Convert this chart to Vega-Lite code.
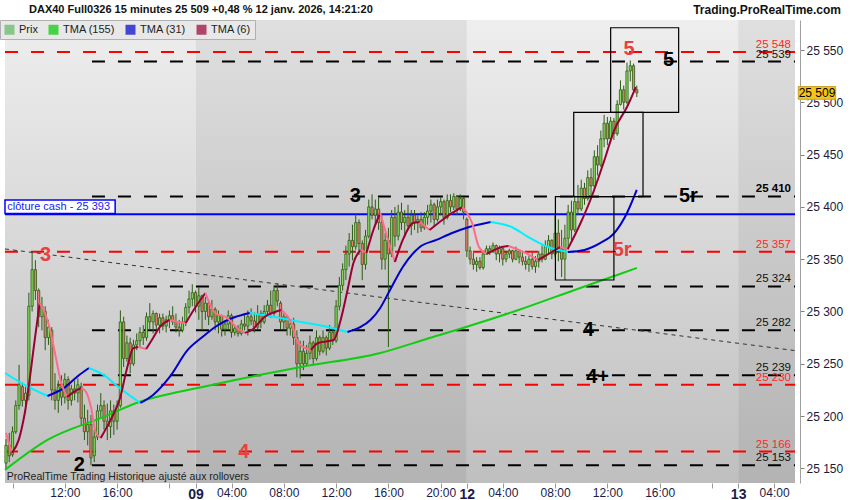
{
"$schema":"https://vega.github.io/schema/vega-lite/v6.json",
"width":800,"height":463,
"autosize":{"type":"none"},
"padding":{"left":0,"top":20,"right":50,"bottom":17},
"background":"#ffffff",
"config":{"font":"Liberation Sans","view":{"stroke":null},
 "axisX":{"grid":false,"domain":false,"tickSize":5,"tickColor":"#9a9a9a","labelPadding":-1,"labelColor":"#1a1a4a","labelFontSize":12,"labelOverlap":false,"labelBound":false,"labelFlush":false,"title":null},
 "axisY":{"grid":false,"domainColor":"#a0a0a0","tickColor":"#808080","tickSize":4,"labelPadding":2,"labelFontSize":12,"labelColor":"#1a1a3a","title":null},
 "legend":{"orient":"top-left","offset":0,"direction":"horizontal","padding":4,"fillColor":"#e8e8e8","strokeColor":"#b0b0b0","symbolType":"square","symbolSize":100,"symbolStrokeWidth":0,"labelFontSize":11,"labelColor":"#222222","columnPadding":10,"labelOffset":4}},
"resolve":{"scale":{"color":"independent"}},
"datasets":{
"days":[{"d":"8","a":-58.3,"b":0,"s":"L","ya":25136,"yb":25578.7},{"d":"9","a":0,"b":83,"s":"D","ya":25136,"yb":25578.7},{"d":"12","a":83,"b":166,"s":"L","ya":25136,"yb":25578.7},{"d":"13","a":166,"b":183.4,"s":"D","ya":25136,"yb":25578.7}],
"lv":[{"p":25548,"a":-58.3,"b":183.4,"k":"r","t":"25 548"},{"p":25539,"a":-31.7,"b":183.4,"k":"b","t":"25 539"},{"p":25410,"a":-31.7,"b":183.4,"k":"b","t":"25 410"},{"p":25357,"a":-58.3,"b":183.4,"k":"r","t":"25 357"},{"p":25324,"a":-31.7,"b":183.4,"k":"b","t":"25 324"},{"p":25282,"a":-31.7,"b":183.4,"k":"b","t":"25 282"},{"p":25239,"a":-31.7,"b":183.4,"k":"b","t":"25 239"},{"p":25230,"a":-58.3,"b":183.4,"k":"r","t":"25 230"},{"p":25166,"a":-58.3,"b":183.4,"k":"r","t":"25 166"},{"p":25153,"a":-31.7,"b":183.4,"k":"b","t":"25 153"}],
"tr":[{"a":-58.3,"pa":25359.8,"b":183.4,"pb":25262.6}],
"cash":[{"a":-58.3,"b":183.4,"p":25393}],
"cbox":[{"a":-58.3,"b":-24.6,"p1":25393.6,"p2":25406.6}],
"ctext":[{"u":-57.6,"p":25400,"t":"clôture cash -  25 393"}],
"note":[{"u":-57.8,"p":25142.2,"t":"ProRealTime Trading  Historique ajusté aux rollovers"}],
"hdr":[{"u":183.4,"p":25578.7,"t":"Trading.ProRealTime.com"}],
"hdl":[{"u":-58.3,"p":25578.7,"t":"DAX40 Full0326 15 minutes 25 509 +0,48 % 12 janv. 2026, 14:21:20"}],
"tag":[{"u":183.4,"p":25509,"t":"25 509"}],
"bx":[{"a":110.1,"b":128.0,"p1":25409.8,"p2":25330.1},{"a":115.7,"b":136.9,"p1":25490.4,"p2":25409.8},{"a":127.0,"b":147.8,"p1":25571.3,"p2":25490.4}],
"ann":[{"u":-45.9,"p":25354,"t":"3","k":"r"},{"u":48.9,"p":25410.4,"t":"3","k":"b"},{"u":-35.6,"p":25153.3,"t":"2","k":"b"},{"u":14.8,"p":25165.7,"t":"4","k":"r"},{"u":120.2,"p":25282,"t":"4","k":"b"},{"u":123.0,"p":25237,"t":"4+","k":"b"},{"u":130.5,"p":25358.8,"t":"5r","k":"r"},{"u":150.8,"p":25410,"t":"5r","k":"b"},{"u":132.6,"p":25550.5,"t":"5","k":"r"},{"u":144.7,"p":25540.4,"t":"5","k":"b"}],
"lg":[{"n":"Prix"},{"n":"TMA (155)"},{"n":"TMA (31)"},{"n":"TMA (6)"}],
"cd":[
{"u":-58,"o":25155,"h":25178,"l":25150,"c":25172},{"u":-57,"o":25172,"h":25184,"l":25156,"c":25162},{"u":-56,"o":25163,"h":25190,"l":25161,"c":25185},{"u":-55,"o":25185,"h":25215,"l":25183,"c":25210},{"u":-54,"o":25210,"h":25249,"l":25206,"c":25230},{"u":-53,"o":25228,"h":25232,"l":25209,"c":25215},{"u":-52,"o":25215,"h":25228,"l":25203,"c":25222},{"u":-51,"o":25220,"h":25318,"l":25215,"c":25305},{"u":-50,"o":25305,"h":25356,"l":25300,"c":25340},{"u":-49,"o":25340,"h":25349,"l":25311,"c":25320},
{"u":-48,"o":25320,"h":25322,"l":25285,"c":25295},{"u":-47,"o":25295,"h":25314,"l":25282,"c":25305},{"u":-46,"o":25300,"h":25305,"l":25263,"c":25275},{"u":-45,"o":25275,"h":25292,"l":25268,"c":25285},{"u":-44,"o":25282,"h":25285,"l":25215,"c":25225},{"u":-43,"o":25225,"h":25241,"l":25206,"c":25215},{"u":-42,"o":25215,"h":25234,"l":25203,"c":25228},{"u":-41,"o":25228,"h":25239,"l":25210,"c":25218},{"u":-40,"o":25218,"h":25241,"l":25212,"c":25235},{"u":-39,"o":25235,"h":25238,"l":25206,"c":25215},
{"u":-38,"o":25215,"h":25230,"l":25210,"c":25226},{"u":-37,"o":25226,"h":25234,"l":25215,"c":25222},{"u":-36,"o":25222,"h":25236,"l":25213,"c":25230},{"u":-35,"o":25228,"h":25232,"l":25191,"c":25198},{"u":-34,"o":25198,"h":25211,"l":25177,"c":25185},{"u":-33,"o":25185,"h":25206,"l":25172,"c":25192},{"u":-32,"o":25192,"h":25201,"l":25153,"c":25160},{"u":-31,"o":25162,"h":25187,"l":25156,"c":25180},{"u":-30,"o":25180,"h":25211,"l":25177,"c":25205},{"u":-29,"o":25205,"h":25222,"l":25199,"c":25210},
{"u":-28,"o":25210,"h":25215,"l":25187,"c":25195},{"u":-27,"o":25195,"h":25212,"l":25177,"c":25190},{"u":-26,"o":25190,"h":25215,"l":25179,"c":25205},{"u":-25,"o":25205,"h":25211,"l":25182,"c":25195},{"u":-24,"o":25195,"h":25215,"l":25187,"c":25210},{"u":-23,"o":25210,"h":25301,"l":25208,"c":25290},{"u":-22,"o":25290,"h":25295,"l":25247,"c":25255},{"u":-21,"o":25255,"h":25277,"l":25252,"c":25270},{"u":-20,"o":25270,"h":25275,"l":25241,"c":25250},{"u":-19,"o":25250,"h":25273,"l":25248,"c":25268},
{"u":-18,"o":25268,"h":25279,"l":25263,"c":25272},{"u":-17,"o":25272,"h":25285,"l":25266,"c":25280},{"u":-16,"o":25280,"h":25287,"l":25268,"c":25275},{"u":-15,"o":25275,"h":25299,"l":25272,"c":25295},{"u":-14,"o":25295,"h":25308,"l":25282,"c":25290},{"u":-13,"o":25290,"h":25301,"l":25279,"c":25298},{"u":-12,"o":25298,"h":25299,"l":25282,"c":25287},{"u":-11,"o":25287,"h":25298,"l":25279,"c":25294},{"u":-10,"o":25294,"h":25298,"l":25282,"c":25286},{"u":-9,"o":25286,"h":25296,"l":25280,"c":25292},
{"u":-8,"o":25292,"h":25301,"l":25284,"c":25296},{"u":-7,"o":25296,"h":25305,"l":25287,"c":25290},{"u":-6,"o":25290,"h":25298,"l":25280,"c":25285},{"u":-5,"o":25285,"h":25292,"l":25276,"c":25282},{"u":-4,"o":25282,"h":25295,"l":25280,"c":25290},{"u":-3,"o":25290,"h":25308,"l":25286,"c":25304},{"u":-2,"o":25304,"h":25320,"l":25298,"c":25312},{"u":-1,"o":25312,"h":25326,"l":25305,"c":25318},
{"u":0,"o":25318,"h":25320,"l":25299,"c":25305},{"u":1,"o":25305,"h":25323,"l":25292,"c":25315},{"u":2,"o":25315,"h":25316,"l":25282,"c":25300},{"u":3,"o":25300,"h":25314,"l":25292,"c":25308},{"u":4,"o":25308,"h":25310,"l":25287,"c":25295},{"u":5,"o":25295,"h":25311,"l":25292,"c":25302},{"u":6,"o":25302,"h":25304,"l":25282,"c":25290},{"u":7,"o":25290,"h":25301,"l":25279,"c":25296},{"u":8,"o":25296,"h":25297,"l":25276,"c":25283},{"u":9,"o":25283,"h":25292,"l":25277,"c":25288},
{"u":10,"o":25288,"h":25301,"l":25282,"c":25296},{"u":11,"o":25296,"h":25298,"l":25275,"c":25280},{"u":12,"o":25280,"h":25287,"l":25277,"c":25284},{"u":13,"o":25284,"h":25287,"l":25276,"c":25279},{"u":14,"o":25279,"h":25292,"l":25277,"c":25288},{"u":15,"o":25288,"h":25297,"l":25282,"c":25286},{"u":16,"o":25286,"h":25301,"l":25277,"c":25295},{"u":17,"o":25295,"h":25303,"l":25287,"c":25291},{"u":18,"o":25291,"h":25299,"l":25280,"c":25285},{"u":19,"o":25285,"h":25306,"l":25283,"c":25298},
{"u":20,"o":25298,"h":25301,"l":25284,"c":25290},{"u":21,"o":25290,"h":25306,"l":25288,"c":25300},{"u":22,"o":25300,"h":25311,"l":25296,"c":25306},{"u":23,"o":25306,"h":25320,"l":25294,"c":25298},{"u":24,"o":25298,"h":25325,"l":25296,"c":25320},{"u":25,"o":25320,"h":25327,"l":25305,"c":25310},{"u":26,"o":25308,"h":25310,"l":25283,"c":25290},{"u":27,"o":25290,"h":25298,"l":25282,"c":25295},{"u":28,"o":25295,"h":25296,"l":25277,"c":25284},{"u":29,"o":25284,"h":25292,"l":25277,"c":25288},
{"u":30,"o":25288,"h":25294,"l":25268,"c":25275},{"u":31,"o":25275,"h":25282,"l":25237,"c":25250},{"u":32,"o":25250,"h":25272,"l":25236,"c":25262},{"u":33,"o":25262,"h":25272,"l":25244,"c":25250},{"u":34,"o":25250,"h":25268,"l":25248,"c":25260},{"u":35,"o":25260,"h":25277,"l":25254,"c":25270},{"u":36,"o":25270,"h":25272,"l":25249,"c":25255},{"u":37,"o":25255,"h":25282,"l":25253,"c":25275},{"u":38,"o":25275,"h":25277,"l":25258,"c":25262},{"u":39,"o":25262,"h":25282,"l":25260,"c":25275},
{"u":40,"o":25275,"h":25277,"l":25258,"c":25265},{"u":41,"o":25265,"h":25287,"l":25263,"c":25280},{"u":42,"o":25280,"h":25285,"l":25268,"c":25272},{"u":43,"o":25272,"h":25311,"l":25270,"c":25305},{"u":44,"o":25305,"h":25333,"l":25301,"c":25325},{"u":45,"o":25325,"h":25346,"l":25320,"c":25340},{"u":46,"o":25340,"h":25363,"l":25330,"c":25355},{"u":47,"o":25355,"h":25375,"l":25343,"c":25368},{"u":48,"o":25368,"h":25383,"l":25349,"c":25362},{"u":49,"o":25362,"h":25394,"l":25359,"c":25385},
{"u":50,"o":25385,"h":25388,"l":25354,"c":25365},{"u":51,"o":25365,"h":25368,"l":25330,"c":25345},{"u":52,"o":25345,"h":25378,"l":25340,"c":25372},{"u":53,"o":25372,"h":25407,"l":25370,"c":25400},{"u":54,"o":25400,"h":25412,"l":25388,"c":25392},{"u":55,"o":25392,"h":25407,"l":25383,"c":25398},{"u":56,"o":25398,"h":25409,"l":25378,"c":25385},{"u":57,"o":25385,"h":25394,"l":25340,"c":25350},{"u":58,"o":25350,"h":25375,"l":25340,"c":25368},{"u":59,"o":25368,"h":25380,"l":25266,"c":25355},
{"u":60,"o":25355,"h":25397,"l":25352,"c":25390},{"u":61,"o":25390,"h":25400,"l":25362,"c":25372},{"u":62,"o":25372,"h":25402,"l":25368,"c":25395},{"u":63,"o":25395,"h":25404,"l":25378,"c":25385},{"u":64,"o":25385,"h":25397,"l":25371,"c":25390},{"u":65,"o":25390,"h":25402,"l":25378,"c":25382},{"u":66,"o":25382,"h":25397,"l":25373,"c":25392},{"u":67,"o":25392,"h":25397,"l":25378,"c":25385},{"u":68,"o":25385,"h":25392,"l":25375,"c":25388},{"u":69,"o":25388,"h":25395,"l":25376,"c":25380},
{"u":70,"o":25380,"h":25395,"l":25378,"c":25390},{"u":71,"o":25390,"h":25402,"l":25383,"c":25396},{"u":72,"o":25396,"h":25407,"l":25385,"c":25402},{"u":73,"o":25402,"h":25404,"l":25381,"c":25388},{"u":74,"o":25388,"h":25407,"l":25386,"c":25400},{"u":75,"o":25400,"h":25409,"l":25392,"c":25405},{"u":76,"o":25405,"h":25407,"l":25383,"c":25390},{"u":77,"o":25390,"h":25412,"l":25388,"c":25406},{"u":78,"o":25406,"h":25412,"l":25395,"c":25400},{"u":79,"o":25400,"h":25413,"l":25397,"c":25410},
{"u":80,"o":25410,"h":25411,"l":25392,"c":25398},{"u":81,"o":25398,"h":25412,"l":25396,"c":25408},{"u":82,"o":25408,"h":25409,"l":25388,"c":25395},
{"u":83,"o":25388,"h":25390,"l":25352,"c":25358},{"u":84,"o":25358,"h":25362,"l":25345,"c":25350},{"u":85,"o":25350,"h":25356,"l":25340,"c":25345},{"u":86,"o":25345,"h":25352,"l":25338,"c":25348},{"u":87,"o":25348,"h":25352,"l":25340,"c":25342},{"u":88,"o":25342,"h":25358,"l":25340,"c":25355},{"u":89,"o":25355,"h":25363,"l":25354,"c":25360},{"u":90,"o":25360,"h":25363,"l":25354,"c":25357},{"u":91,"o":25357,"h":25366,"l":25356,"c":25363},{"u":92,"o":25363,"h":25364,"l":25349,"c":25355},
{"u":93,"o":25355,"h":25363,"l":25347,"c":25360},{"u":94,"o":25360,"h":25361,"l":25344,"c":25350},{"u":95,"o":25350,"h":25358,"l":25347,"c":25355},{"u":96,"o":25355,"h":25360,"l":25351,"c":25358},{"u":97,"o":25358,"h":25359,"l":25347,"c":25350},{"u":98,"o":25350,"h":25362,"l":25349,"c":25358},{"u":99,"o":25358,"h":25359,"l":25346,"c":25352},{"u":100,"o":25352,"h":25358,"l":25344,"c":25348},{"u":101,"o":25348,"h":25353,"l":25340,"c":25345},{"u":102,"o":25345,"h":25353,"l":25338,"c":25350},
{"u":103,"o":25350,"h":25356,"l":25340,"c":25343},{"u":104,"o":25343,"h":25353,"l":25337,"c":25348},{"u":105,"o":25348,"h":25358,"l":25342,"c":25355},{"u":106,"o":25355,"h":25363,"l":25347,"c":25350},{"u":107,"o":25350,"h":25368,"l":25349,"c":25362},{"u":108,"o":25362,"h":25373,"l":25354,"c":25368},{"u":109,"o":25368,"h":25369,"l":25350,"c":25355},{"u":110,"o":25355,"h":25393,"l":25352,"c":25375},{"u":111,"o":25375,"h":25388,"l":25348,"c":25360},{"u":112,"o":25360,"h":25378,"l":25333,"c":25350},
{"u":113,"o":25350,"h":25383,"l":25330,"c":25370},{"u":114,"o":25370,"h":25402,"l":25359,"c":25395},{"u":115,"o":25395,"h":25406,"l":25368,"c":25378},{"u":116,"o":25378,"h":25411,"l":25376,"c":25405},{"u":117,"o":25405,"h":25421,"l":25392,"c":25398},{"u":118,"o":25398,"h":25426,"l":25396,"c":25418},{"u":119,"o":25418,"h":25423,"l":25402,"c":25408},{"u":120,"o":25408,"h":25435,"l":25406,"c":25428},{"u":121,"o":25428,"h":25437,"l":25411,"c":25420},{"u":122,"o":25420,"h":25454,"l":25418,"c":25448},
{"u":123,"o":25448,"h":25459,"l":25430,"c":25440},{"u":124,"o":25440,"h":25473,"l":25438,"c":25465},{"u":125,"o":25465,"h":25488,"l":25457,"c":25480},{"u":126,"o":25480,"h":25486,"l":25459,"c":25465},{"u":127,"o":25465,"h":25486,"l":25462,"c":25482},{"u":128,"o":25482,"h":25485,"l":25464,"c":25470},{"u":129,"o":25470,"h":25502,"l":25468,"c":25498},{"u":130,"o":25498,"h":25521,"l":25497,"c":25512},{"u":131,"o":25512,"h":25516,"l":25493,"c":25500},{"u":132,"o":25500,"h":25538,"l":25498,"c":25530},
{"u":133,"o":25530,"h":25540,"l":25520,"c":25535},{"u":134,"o":25535,"h":25537,"l":25510,"c":25512},{"u":135,"o":25512,"h":25516,"l":25505,"c":25509}
],
"ma":[
{"s":"G","k":"g","u":-58.3,"p":25148.5},{"s":"G","k":"g","u":-45.3,"p":25177.2},{"s":"G","k":"g","u":-28.1,"p":25199.2},{"s":"G","k":"g","u":-18.1,"p":25212.5},{"s":"G","k":"g","u":2.1,"p":25227.8},{"s":"G","k":"g","u":12.1,"p":25234.5},{"s":"G","k":"g","u":32.3,"p":25247},{"s":"G","k":"g","u":56.5,"p":25260.3},{"s":"G","k":"g","u":71.6,"p":25274.7},{"s":"G","k":"g","u":83.7,"p":25286.1},{"s":"G","k":"g","u":98.8,"p":25301.4},{"s":"G","k":"g","u":116,"p":25320.6},{"s":"G","k":"g","u":129,"p":25334.9},{"s":"G","k":"g","u":135,"p":25341.6},
{"s":"A","k":"c","u":-58.3,"p":25241.2},{"s":"A","k":"c","u":-52.3,"p":25229.8},{"s":"A","k":"c","u":-45.3,"p":25219.2},
{"s":"B","k":"b","u":-45.3,"p":25219.2},{"s":"B","k":"b","u":-40.2,"p":25226.9},{"s":"B","k":"b","u":-35.6,"p":25239.3},{"s":"B","k":"b","u":-32.6,"p":25246.0},
{"s":"C","k":"c","u":-32.6,"p":25246.0},{"s":"C","k":"c","u":-28.1,"p":25239.3},{"s":"C","k":"c","u":-23.6,"p":25227.8},{"s":"C","k":"c","u":-16.9,"p":25212.5},
{"s":"D","k":"b","u":-16.9,"p":25212.5},{"s":"D","k":"b","u":-13.0,"p":25220.2},{"s":"D","k":"b","u":-7.9,"p":25237.4},{"s":"D","k":"b","u":-2.4,"p":25263.2},{"s":"D","k":"b","u":2.1,"p":25275.6},{"s":"D","k":"b","u":6.0,"p":25285.2},{"s":"D","k":"b","u":12.1,"p":25294.7},{"s":"D","k":"b","u":16.6,"p":25298.6},
{"s":"E","k":"c","u":16.6,"p":25298.6},{"s":"E","k":"c","u":24.2,"p":25294.7},{"s":"E","k":"c","u":32.3,"p":25290.0},{"s":"E","k":"c","u":40.5,"p":25285.2},{"s":"E","k":"c","u":46.5,"p":25280.4},
{"s":"F","k":"b","u":46.5,"p":25280.4},{"s":"F","k":"b","u":50.5,"p":25285.2},{"s":"F","k":"b","u":53.5,"p":25291.9},{"s":"F","k":"b","u":56.5,"p":25303.4},{"s":"F","k":"b","u":59.5,"p":25320.6},{"s":"F","k":"b","u":63.4,"p":25342.6},{"s":"F","k":"b","u":68.6,"p":25361.7},{"s":"F","k":"b","u":73.7,"p":25368.4},{"s":"F","k":"b","u":78.5,"p":25375.0},{"s":"F","k":"b","u":83.7,"p":25380.8},{"s":"F","k":"b","u":90.3,"p":25385.6},
{"s":"H1","k":"c","u":90.3,"p":25385.6},{"s":"H1","k":"c","u":96.7,"p":25380.8},{"s":"H1","k":"c","u":101.8,"p":25371.2},{"s":"H1","k":"c","u":107.9,"p":25361.7},{"s":"H1","k":"c","u":113.9,"p":25356.9},
{"s":"H2","k":"b","u":113.9,"p":25356.9},{"s":"H2","k":"b","u":119.0,"p":25358.8},{"s":"H2","k":"b","u":123.9,"p":25365.5},{"s":"H2","k":"b","u":128.1,"p":25375.0},{"s":"H2","k":"b","u":132.0,"p":25394.2},{"s":"H2","k":"b","u":135.0,"p":25416.2},
{"s":"P1","k":"p","u":-58.0,"p":25183.9},{"s":"P1","k":"p","u":-56.2,"p":25164.7},
{"s":"R1","k":"r","u":-56.2,"p":25164.7},{"s":"R1","k":"r","u":-54.1,"p":25177.2},{"s":"R1","k":"r","u":-52.3,"p":25202.0},{"s":"R1","k":"r","u":-49.2,"p":25272.8},{"s":"R1","k":"r","u":-47.7,"p":25308.1},
{"s":"P2","k":"p","u":-47.7,"p":25308.1},{"s":"P2","k":"p","u":-45.3,"p":25291.9},{"s":"P2","k":"p","u":-43.2,"p":25263.2},{"s":"P2","k":"p","u":-41.1,"p":25231.7},{"s":"P2","k":"p","u":-39.3,"p":25218.3},
{"s":"R2","k":"r","u":-39.3,"p":25218.3},{"s":"R2","k":"r","u":-37.2,"p":25223.1},{"s":"R2","k":"r","u":-35.0,"p":25226.9},
{"s":"P3","k":"p","u":-35.0,"p":25226.9},{"s":"P3","k":"p","u":-33.5,"p":25223.1},{"s":"P3","k":"p","u":-32.0,"p":25208.7},{"s":"P3","k":"p","u":-30.5,"p":25183.9},{"s":"P3","k":"p","u":-29.0,"p":25179.1},
{"s":"R3","k":"r","u":-29.0,"p":25179.1},{"s":"R3","k":"r","u":-26.0,"p":25196.3},{"s":"R3","k":"r","u":-23.0,"p":25218.3},{"s":"R3","k":"r","u":-21.1,"p":25244.1},{"s":"R3","k":"r","u":-19.0,"p":25265.1},{"s":"R3","k":"r","u":-17.5,"p":25266.1},
{"s":"P4","k":"p","u":-17.5,"p":25266.1},{"s":"P4","k":"p","u":-15.1,"p":25264.2},
{"s":"R4","k":"r","u":-15.1,"p":25264.2},{"s":"R4","k":"r","u":-13.0,"p":25274.7},{"s":"R4","k":"r","u":-10.9,"p":25285.2},{"s":"R4","k":"r","u":-7.9,"p":25291.9},
{"s":"P5","k":"p","u":-7.9,"p":25291.9},{"s":"P5","k":"p","u":-5.4,"p":25290.0},{"s":"P5","k":"p","u":-3.0,"p":25289.0},
{"s":"R5","k":"r","u":-3.0,"p":25289.0},{"s":"R5","k":"r","u":0,"p":25304.3},{"s":"R5","k":"r","u":3.0,"p":25317.7},
{"s":"P6","k":"p","u":3.0,"p":25317.7},{"s":"P6","k":"p","u":6.0,"p":25298.6},{"s":"P6","k":"p","u":9.7,"p":25293.8},{"s":"P6","k":"p","u":12.7,"p":25284.2},{"s":"P6","k":"p","u":15.1,"p":25279.5},
{"s":"R6","k":"r","u":15.1,"p":25279.5},{"s":"R6","k":"r","u":17.2,"p":25282.3},{"s":"R6","k":"r","u":21.1,"p":25294.7},{"s":"R6","k":"r","u":26.3,"p":25301.4},
{"s":"P7","k":"p","u":26.3,"p":25301.4},{"s":"P7","k":"p","u":29.3,"p":25289.0},{"s":"P7","k":"p","u":31.4,"p":25269.9},{"s":"P7","k":"p","u":35.3,"p":25263.2},
{"s":"R7","k":"r","u":35.3,"p":25263.2},{"s":"R7","k":"r","u":37.5,"p":25269.9},{"s":"R7","k":"r","u":42.3,"p":25272.8},{"s":"R7","k":"r","u":44.4,"p":25291.9},{"s":"R7","k":"r","u":46.5,"p":25320.6},{"s":"R7","k":"r","u":48.3,"p":25346.4},{"s":"R7","k":"r","u":50.5,"p":25358.8},
{"s":"P8","k":"p","u":50.5,"p":25358.8},{"s":"P8","k":"p","u":52.3,"p":25356.0},
{"s":"R8","k":"r","u":52.3,"p":25356.0},{"s":"R8","k":"r","u":54.4,"p":25377.9},{"s":"R8","k":"r","u":56.5,"p":25394.2},
{"s":"P9","k":"p","u":56.5,"p":25394.2},{"s":"P9","k":"p","u":58.9,"p":25368.4},{"s":"P9","k":"p","u":61.0,"p":25347.3},
{"s":"R9","k":"r","u":61.0,"p":25347.3},{"s":"R9","k":"r","u":63.4,"p":25368.4},{"s":"R9","k":"r","u":66.5,"p":25384.6},{"s":"R9","k":"r","u":68.6,"p":25385.6},
{"s":"P10","k":"p","u":68.6,"p":25385.6},{"s":"P10","k":"p","u":71.6,"p":25377.9},
{"s":"R10","k":"r","u":71.6,"p":25377.9},{"s":"R10","k":"r","u":75.5,"p":25387.5},{"s":"R10","k":"r","u":78.5,"p":25394.2},{"s":"R10","k":"r","u":81.6,"p":25399.9},
{"s":"P11","k":"p","u":81.6,"p":25399.9},{"s":"P11","k":"p","u":84.6,"p":25384.6},{"s":"P11","k":"p","u":86.7,"p":25361.7},{"s":"P11","k":"p","u":89.1,"p":25355.0},
{"s":"R11","k":"r","u":89.1,"p":25355.0},{"s":"R11","k":"r","u":93.7,"p":25361.7},{"s":"R11","k":"r","u":95.8,"p":25362.6},
{"s":"P12","k":"p","u":95.8,"p":25362.6},{"s":"P12","k":"p","u":100.9,"p":25356.0},{"s":"P12","k":"p","u":104.8,"p":25349.2},
{"s":"R12","k":"r","u":104.8,"p":25349.2},{"s":"R12","k":"r","u":110.0,"p":25358.8},{"s":"R12","k":"r","u":111.5,"p":25361.7},
{"s":"P13","k":"p","u":111.5,"p":25361.7},{"s":"P13","k":"p","u":113.9,"p":25359.8},
{"s":"R13","k":"r","u":113.9,"p":25359.8},{"s":"R13","k":"r","u":117.8,"p":25384.6},{"s":"R13","k":"r","u":120.8,"p":25406.6},{"s":"R13","k":"r","u":125.1,"p":25444.8},{"s":"R13","k":"r","u":128.1,"p":25473.5},{"s":"R13","k":"r","u":132.0,"p":25495.5},{"s":"R13","k":"r","u":134.7,"p":25514.6}
]
},
"layer":[
{"data":{"name":"days"},"transform":[{"filter":"datum.s == 'L'"}],
 "mark":{"type":"rect","fill":{"gradient":"linear","x1":0,"y1":0,"x2":0,"y2":1,"stops":[{"offset":0,"color":"#eeeeee"},{"offset":1,"color":"#bfbfbf"}]}},
 "encoding":{"x":{"field":"a","type":"quantitative","title":null,"scale":{"domain":[-58.3,183.4],"nice":false,"zero":false},
   "axis":{"orient":"bottom","title":null,"values":[-56,-40,-24,-8,0,11,27,43,59,75,83,94,110,126,142,158,166,177],
    "labelExpr":"datum.value==-40?'12:00':datum.value==-24?'16:00':datum.value==0?'09':datum.value==11?'04:00':datum.value==27?'08:00':datum.value==43?'12:00':datum.value==59?'16:00':datum.value==75?'20:00':datum.value==83?'12':datum.value==94?'04:00':datum.value==110?'08:00':datum.value==126?'12:00':datum.value==142?'16:00':datum.value==166?'13':datum.value==177?'04:00':''",
    "labelFontSize":{"condition":{"test":"datum.value==0||datum.value==83||datum.value==166","value":14},"value":12},
    "labelFontWeight":{"condition":{"test":"datum.value==0||datum.value==83||datum.value==166","value":"bold"},"value":"normal"}}},
  "x2":{"field":"b"},
  "y":{"field":"ya","type":"quantitative","title":null,"scale":{"domain":[25136,25578.7],"nice":false,"zero":false},
   "axis":{"orient":"right","title":null,"values":[25150,25200,25250,25300,25350,25400,25450,25500,25550],"labelExpr":"replace(format(datum.value, ','), ',', ' ')"}},
  "y2":{"field":"yb"}}},
{"data":{"name":"days"},"transform":[{"filter":"datum.s == 'D'"}],
 "mark":{"type":"rect","fill":{"gradient":"linear","x1":0,"y1":0,"x2":0,"y2":1,"stops":[{"offset":0,"color":"#dfdfdf"},{"offset":1,"color":"#b3b3b3"}]}},
 "encoding":{"x":{"field":"a","type":"quantitative","title":null,"scale":{"domain":[-58.3,183.4],"nice":false,"zero":false}},"x2":{"field":"b"},
  "y":{"field":"ya","type":"quantitative","title":null,"scale":{"domain":[25136,25578.7],"nice":false,"zero":false}},"y2":{"field":"yb"}}},
{"data":{"name":"lv"},
 "mark":{"type":"rule","strokeDash":[13,13],"strokeWidth":2},
 "encoding":{"x":{"field":"a","type":"quantitative","title":null,"scale":{"domain":[-58.3,183.4],"nice":false,"zero":false}},"x2":{"field":"b"},
  "y":{"field":"p","type":"quantitative","title":null,"scale":{"domain":[25136,25578.7],"nice":false,"zero":false}},
  "color":{"field":"k","type":"nominal","scale":{"domain":["r","b"],"range":["#ff0000","#000000"]},"legend":null}}},
{"data":{"name":"tr"},
 "mark":{"type":"rule","strokeDash":[4,4],"strokeWidth":1,"color":"#333333"},
 "encoding":{"x":{"field":"a","type":"quantitative","title":null,"scale":{"domain":[-58.3,183.4],"nice":false,"zero":false}},"x2":{"field":"b"},
  "y":{"field":"pa","type":"quantitative","title":null,"scale":{"domain":[25136,25578.7],"nice":false,"zero":false}},"y2":{"field":"pb"}}},
{"data":{"name":"cash"},
 "mark":{"type":"rule","strokeWidth":2,"color":"#0000ff"},
 "encoding":{"x":{"field":"a","type":"quantitative","title":null,"scale":{"domain":[-58.3,183.4],"nice":false,"zero":false}},"x2":{"field":"b"},
  "y":{"field":"p","type":"quantitative","title":null,"scale":{"domain":[25136,25578.7],"nice":false,"zero":false}}}},
{"data":{"name":"cbox"},
 "mark":{"type":"rect","fill":"#ffffff","stroke":"#0000ff","strokeWidth":1.5},
 "encoding":{"x":{"field":"a","type":"quantitative","title":null,"scale":{"domain":[-58.3,183.4],"nice":false,"zero":false}},"x2":{"field":"b"},
  "y":{"field":"p1","type":"quantitative","title":null,"scale":{"domain":[25136,25578.7],"nice":false,"zero":false}},"y2":{"field":"p2"}}},
{"data":{"name":"ctext"},
 "mark":{"type":"text","align":"left","baseline":"middle","fontSize":11,"color":"#2020ff"},
 "encoding":{"x":{"field":"u","type":"quantitative","title":null,"scale":{"domain":[-58.3,183.4],"nice":false,"zero":false}},
  "y":{"field":"p","type":"quantitative","title":null,"scale":{"domain":[25136,25578.7],"nice":false,"zero":false}},"text":{"field":"t"}}},
{"data":{"name":"cd"},
 "mark":{"type":"rule","color":"#2b5c12","strokeWidth":1},
 "encoding":{"x":{"field":"u","type":"quantitative","title":null,"scale":{"domain":[-58.3,183.4],"nice":false,"zero":false}},
  "y":{"field":"l","type":"quantitative","title":null,"scale":{"domain":[25136,25578.7],"nice":false,"zero":false}},"y2":{"field":"h"}}},
{"data":{"name":"cd"},
 "mark":{"type":"bar","width":2.2,"stroke":"#2b5c12","strokeWidth":0.8},
 "encoding":{"x":{"field":"u","type":"quantitative","title":null,"scale":{"domain":[-58.3,183.4],"nice":false,"zero":false}},
  "y":{"field":"o","type":"quantitative","title":null,"scale":{"domain":[25136,25578.7],"nice":false,"zero":false}},
  "y2":{"field":"c"},
  "fill":{"condition":{"test":"datum.c >= datum.o","value":"#84dc5c"},"value":"#f07e72"}}},
{"data":{"name":"ma"},
 "mark":{"type":"line","strokeWidth":2,"interpolate":"monotone"},
 "encoding":{"x":{"field":"u","type":"quantitative","title":null,"scale":{"domain":[-58.3,183.4],"nice":false,"zero":false}},
  "y":{"field":"p","type":"quantitative","title":null,"scale":{"domain":[25136,25578.7],"nice":false,"zero":false}},
  "detail":{"field":"s","type":"nominal"},
  "color":{"field":"k","type":"nominal","scale":{"domain":["g","b","c","r","p"],"range":["#11cc11","#0000cc","#00f0ff","#990033","#ff6b8b"]},"legend":null}}},
{"data":{"name":"bx"},
 "mark":{"type":"rect","fillOpacity":0,"stroke":"#000000","strokeWidth":1.2},
 "encoding":{"x":{"field":"a","type":"quantitative","title":null,"scale":{"domain":[-58.3,183.4],"nice":false,"zero":false}},"x2":{"field":"b"},
  "y":{"field":"p1","type":"quantitative","title":null,"scale":{"domain":[25136,25578.7],"nice":false,"zero":false}},"y2":{"field":"p2"}}},
{"data":{"name":"ann"},
 "mark":{"type":"text","align":"center","baseline":"middle","fontSize":20,"fontWeight":"bold"},
 "encoding":{"x":{"field":"u","type":"quantitative","title":null,"scale":{"domain":[-58.3,183.4],"nice":false,"zero":false}},
  "y":{"field":"p","type":"quantitative","title":null,"scale":{"domain":[25136,25578.7],"nice":false,"zero":false}},"text":{"field":"t"},
  "color":{"field":"k","type":"nominal","scale":{"domain":["r","b"],"range":["#e84040","#000000"]},"legend":null}}},
{"data":{"name":"lv"},"transform":[{"filter":"datum.p != 25410"}],
 "mark":{"type":"text","align":"right","baseline":"middle","dx":-4,"dy":-7,"fontSize":11.5},
 "encoding":{"x":{"field":"b","type":"quantitative","title":null,"scale":{"domain":[-58.3,183.4],"nice":false,"zero":false}},
  "y":{"field":"p","type":"quantitative","title":null,"scale":{"domain":[25136,25578.7],"nice":false,"zero":false}},"text":{"field":"t"},
  "color":{"field":"k","type":"nominal","scale":{"domain":["r","b"],"range":["#ff2828","#111111"]},"legend":null}}},
{"data":{"name":"lv"},"transform":[{"filter":"datum.p == 25410"}],
 "mark":{"type":"text","align":"right","baseline":"middle","dx":-4,"dy":-7,"fontSize":11.5,"fontWeight":"bold","color":"#000000"},
 "encoding":{"x":{"field":"b","type":"quantitative","title":null,"scale":{"domain":[-58.3,183.4],"nice":false,"zero":false}},
  "y":{"field":"p","type":"quantitative","title":null,"scale":{"domain":[25136,25578.7],"nice":false,"zero":false}},"text":{"field":"t"}}},
{"data":{"name":"note"},
 "mark":{"type":"text","align":"left","baseline":"middle","fontSize":10.5,"color":"#222222"},
 "encoding":{"x":{"field":"u","type":"quantitative","title":null,"scale":{"domain":[-58.3,183.4],"nice":false,"zero":false}},
  "y":{"field":"p","type":"quantitative","title":null,"scale":{"domain":[25136,25578.7],"nice":false,"zero":false}},"text":{"field":"t"}}},
{"data":{"name":"hdr"},
 "mark":{"type":"text","align":"right","baseline":"middle","fontSize":12,"fontWeight":"bold","color":"#111111","dx":46,"dy":-10},
 "encoding":{"x":{"field":"u","type":"quantitative","title":null,"scale":{"domain":[-58.3,183.4],"nice":false,"zero":false}},
  "y":{"field":"p","type":"quantitative","title":null,"scale":{"domain":[25136,25578.7],"nice":false,"zero":false}},"text":{"field":"t"}}},
{"data":{"name":"hdl"},
 "mark":{"type":"text","align":"left","baseline":"middle","fontSize":11,"fontWeight":"bold","color":"#111111","dx":24,"dy":-10},
 "encoding":{"x":{"field":"u","type":"quantitative","title":null,"scale":{"domain":[-58.3,183.4],"nice":false,"zero":false}},
  "y":{"field":"p","type":"quantitative","title":null,"scale":{"domain":[25136,25578.7],"nice":false,"zero":false}},"text":{"field":"t"}}},
{"data":{"name":"tag"},
 "mark":{"type":"point","filled":true,"shape":"M-1,-0.34L1,-0.34L1,0.34L-1,0.34Z","size":1400,"fill":"#f5c518","stroke":"#c9a227","strokeWidth":1,"opacity":1,"xOffset":22},
 "encoding":{"x":{"field":"u","type":"quantitative","title":null,"scale":{"domain":[-58.3,183.4],"nice":false,"zero":false}},
  "y":{"field":"p","type":"quantitative","title":null,"scale":{"domain":[25136,25578.7],"nice":false,"zero":false}}}},
{"data":{"name":"tag"},
 "mark":{"type":"text","align":"center","baseline":"middle","fontSize":12,"color":"#000000","xOffset":22},
 "encoding":{"x":{"field":"u","type":"quantitative","title":null,"scale":{"domain":[-58.3,183.4],"nice":false,"zero":false}},
  "y":{"field":"p","type":"quantitative","title":null,"scale":{"domain":[25136,25578.7],"nice":false,"zero":false}},"text":{"field":"t"}}},
{"data":{"name":"lg"},"transform":[{"filter":"datum.n == 'none'"}],
 "mark":{"type":"square"},
 "encoding":{"color":{"field":"n","type":"nominal","scale":{"domain":["Prix","TMA (155)","TMA (31)","TMA (6)"],"range":["#5cb85c","#00cc00","#0000cc","#990033"]},"legend":{"title":null}}}}
]
}
